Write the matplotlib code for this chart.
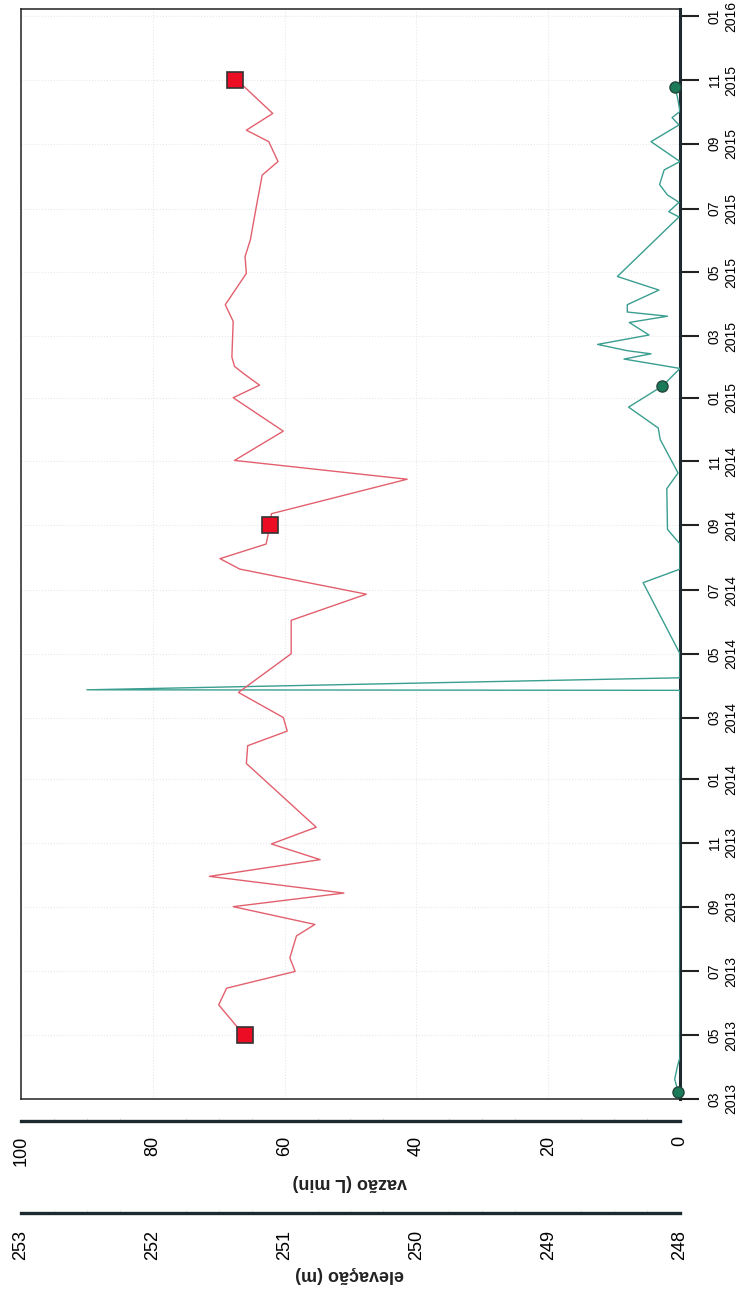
import pandas as pd
import matplotlib
matplotlib.use('Agg')
import matplotlib.pyplot as plt
import matplotlib.dates as mdates
from matplotlib.ticker import MultipleLocator

plt.rcParams['font.family'] = ['Liberation Sans', 'DejaVu Sans']

# elevação (m) - série contínua (linha vermelha)
elev_dates = ['2013-04-30', '2013-05-30', '2013-06-15', '2013-07-01', '2013-07-14',
              '2013-08-04', '2013-08-15', '2013-09-01', '2013-09-14', '2013-09-30',
              '2013-10-16', '2013-10-31', '2013-11-16', '2014-01-16', '2014-02-02',
              '2014-02-16', '2014-03-01', '2014-03-25', '2014-05-01', '2014-06-02',
              '2014-06-27', '2014-07-21', '2014-07-31', '2014-08-14', '2014-09-01',
              '2014-09-12', '2014-10-15', '2014-11-02', '2014-11-30', '2015-01-01',
              '2015-01-13', '2015-01-24', '2015-01-31', '2015-02-09', '2015-03-15',
              '2015-03-31', '2015-04-30', '2015-05-16', '2015-06-01', '2015-07-06',
              '2015-08-02', '2015-08-15', '2015-09-03', '2015-09-14', '2015-09-30',
              '2015-10-26', '2015-11-01']
elev_vals = [251.30, 251.50, 251.44, 250.92, 250.96,
             250.91, 250.77, 251.39, 250.55, 251.57,
             250.73, 251.10, 250.76, 251.29, 251.28,
             250.98, 251.01, 251.35, 250.95, 250.95,
             250.38, 251.34, 251.49, 251.14, 251.11,
             251.10, 250.07, 251.38, 251.01, 251.39,
             251.19, 251.31, 251.38, 251.40, 251.39,
             251.45, 251.29, 251.30, 251.26, 251.21,
             251.17, 251.05, 251.12, 251.29, 251.09,
             251.31, 251.38]

# elevação medida (quadrados)
elev_obs_dates = ['2013-05-01', '2014-09-01', '2015-11-01']
elev_obs_vals = [251.30, 251.11, 251.38]

# vazão (L min) - linha verde
flow_dates = ['2013-03-08', '2013-03-20', '2013-04-01', '2013-04-10', '2014-03-27',
              '2014-03-27 12:00', '2014-04-08', '2014-05-01', '2014-07-08', '2014-07-21',
              '2014-08-14', '2014-08-28', '2014-10-06', '2014-10-21', '2014-11-22',
              '2014-12-03', '2014-12-23', '2015-01-12', '2015-01-29', '2015-02-03',
              '2015-02-07', '2015-02-12', '2015-02-15', '2015-02-21', '2015-03-02',
              '2015-03-14', '2015-03-20', '2015-03-24', '2015-03-31', '2015-04-14',
              '2015-04-27', '2015-06-23', '2015-06-28', '2015-07-07', '2015-07-14',
              '2015-07-24', '2015-08-07', '2015-08-15', '2015-09-03', '2015-09-19',
              '2015-09-26', '2015-10-02', '2015-10-16', '2015-10-25']
flow_vals = [0.3, 0.8, 0.4, 0.0, 0.0,
             90.0, 0.0, 0.0, 5.6, 0.0,
             0.0, 1.9, 2.0, 0.3, 3.0,
             3.3, 7.8, 2.7, 0.0, 4.7,
             8.5, 4.4, 8.0, 12.5, 4.7,
             7.7, 1.9, 8.0, 8.0, 3.2,
             9.5, 0.15, 1.7, 0.15, 1.9,
             3.1, 2.4, 0.0, 4.4, 0.15,
             1.2, 0.0, 0.4, 0.8]

# vazão medida (círculos)
flow_obs_dates = ['2013-03-08', '2015-01-12', '2015-10-25']
flow_obs_vals = [0.3, 2.7, 0.8]

elev_dates = pd.to_datetime(elev_dates)
elev_obs_dates = pd.to_datetime(elev_obs_dates)
flow_dates = pd.to_datetime(flow_dates, format='mixed')
flow_obs_dates = pd.to_datetime(flow_obs_dates)

fig = plt.figure(figsize=(7.47, 12.97), dpi=100)
ax = fig.add_axes([0.0281, 0.1527, 0.8822, 0.8404])

# vazão no eixo principal (x invertido), tempo no eixo vertical
ax.plot(flow_vals, flow_dates, color='#3a9e90', lw=1.0, zorder=3)
ax.plot(flow_obs_vals, flow_obs_dates, 'o', ms=8, mfc='#1b7a58', mec='#24453a', mew=1, zorder=5, clip_on=False)
ax.set_xlim(100, 0)
ax.set_ylim(pd.Timestamp('2013-03-01'), pd.Timestamp('2016-01-08'))

ax.set_xticks([0, 20, 40, 60, 80, 100])
ax.tick_params(axis='x', which='both', length=0, labelbottom=False)
ax.grid(True, color='#e8e8e8', ls=':', lw=0.8)

ax.yaxis.set_major_locator(mdates.MonthLocator(bymonth=[1, 3, 5, 7, 9, 11]))
ax.yaxis.set_major_formatter(mdates.DateFormatter('%m\n%Y'))
ax.yaxis.tick_right()
ax.tick_params(axis='y', direction='out', length=14, width=1.5, pad=6, labelsize=10,
               labelrotation=90, color='#222222')
plt.setp(ax.get_yticklabels(), ha='left', va='center', multialignment='center')

for side in ['left', 'top', 'bottom']:
    ax.spines[side].set_linewidth(1.1)
    ax.spines[side].set_color('#222222')
ax.spines['right'].set_linewidth(2.2)
ax.spines['right'].set_color('#1c2a30')

# eixo de vazão deslocado
sec = ax.secondary_xaxis(-22 / 1090)
sec.set_xticks([0, 20, 40, 60, 80, 100])
sec.xaxis.set_minor_locator(MultipleLocator(5))
sec.spines['bottom'].set_linewidth(2.4)
sec.spines['bottom'].set_color('#1c2a30')
sec.tick_params(axis='x', which='major', length=0, pad=11, labelsize=13, labelrotation=90)
sec.tick_params(axis='x', which='minor', length=2, direction='in', color='#dddddd')

# elevação em eixo gêmeo, com escala própria
ax_e = ax.twiny()
ax_e.plot(elev_vals, elev_dates, color='#e2606e', lw=1.0, zorder=3)
ax_e.plot(elev_obs_vals, elev_obs_dates, 's', ms=11, mfc='#ec0d24', mec='#333333', mew=1.2, zorder=5)
ax_e.set_xlim(253, 248)
ax_e.xaxis.set_ticks_position('bottom')
ax_e.spines['bottom'].set_position(('outward', 82))
for side in ['left', 'top', 'right']:
    ax_e.spines[side].set_visible(False)
ax_e.spines['bottom'].set_linewidth(2.4)
ax_e.spines['bottom'].set_color('#1c2a30')
ax_e.set_xticks([248, 249, 250, 251, 252, 253])
ax_e.xaxis.set_minor_locator(MultipleLocator(0.25))
ax_e.tick_params(axis='x', which='major', length=0, pad=12, labelsize=13, labelrotation=90)
ax_e.tick_params(axis='x', which='minor', length=2, direction='in', color='#dddddd')

fig.text(350 / 747, 1 - 1183 / 1297, 'vazão (L min)', rotation=180, ha='center', va='center',
         fontsize=13, fontweight='bold', color='#222222')
fig.text(350 / 747, 1 - 1275 / 1297, 'elevação (m)', rotation=180, ha='center', va='center',
         fontsize=13, fontweight='bold', color='#222222')

fig.savefig('out.png', dpi=100)
